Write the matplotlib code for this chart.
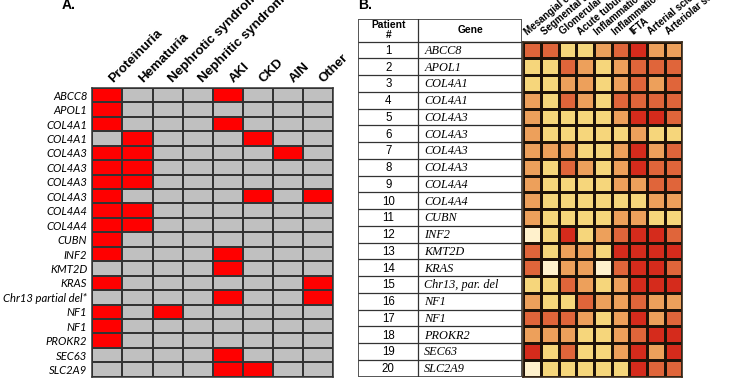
import numpy as np
import matplotlib
matplotlib.use("Agg")
import matplotlib.pyplot as plt
from matplotlib.colors import ListedColormap

# ---------------- data ----------------
genes_a = ["ABCC8", "APOL1", "COL4A1", "COL4A1", "COL4A3", "COL4A3", "COL4A3", "COL4A3",
           "COL4A4", "COL4A4", "CUBN", "INF2", "KMT2D", "KRAS", "Chr13 partial del*",
           "NF1", "NF1", "PROKR2", "SEC63", "SLC2A9"]
features_a = ["Proteinuria", "Hematuria", "Nephrotic syndrome", "Nephritic syndrome",
              "AKI", "CKD", "AIN", "Other"]
# 1 = present (red), 0 = absent (gray)
presence = [
    [1, 0, 0, 0, 1, 0, 0, 0],
    [1, 0, 0, 0, 0, 0, 0, 0],
    [1, 0, 0, 0, 1, 0, 0, 0],
    [0, 1, 0, 0, 0, 1, 0, 0],
    [1, 1, 0, 0, 0, 0, 1, 0],
    [1, 1, 0, 0, 0, 0, 0, 0],
    [1, 1, 0, 0, 0, 0, 0, 0],
    [1, 0, 0, 0, 0, 1, 0, 1],
    [1, 1, 0, 0, 0, 0, 0, 0],
    [1, 1, 0, 0, 0, 0, 0, 0],
    [1, 0, 0, 0, 0, 0, 0, 0],
    [1, 0, 0, 0, 1, 0, 0, 0],
    [0, 0, 0, 0, 1, 0, 0, 0],
    [1, 0, 0, 0, 0, 0, 0, 1],
    [0, 0, 0, 0, 1, 0, 0, 1],
    [1, 0, 1, 0, 0, 0, 0, 0],
    [1, 0, 0, 0, 0, 0, 0, 0],
    [1, 0, 0, 0, 0, 0, 0, 0],
    [0, 0, 0, 0, 1, 0, 0, 0],
    [0, 0, 0, 0, 1, 1, 0, 0],
]

patients = list(range(1, 21))
genes_b = ["ABCC8", "APOL1", "COL4A1", "COL4A1", "COL4A3", "COL4A3", "COL4A3", "COL4A3",
           "COL4A4", "COL4A4", "CUBN", "INF2", "KMT2D", "KRAS", "Chr13, par. del",
           "NF1", "NF1", "PROKR2", "SEC63", "SLC2A9"]
features_b = ["Mesangial expansion", "Segmental sclerosis", "Glomerular sclerosis",
              "Acute tubular injury", "Inflammation (IFTA)", "Inflammation (non-IFTA)",
              "IFTA", "Arterial sclerosis", "Arteriolar sclerosis"]
# severity score 0-4
severity = [
    [3, 3, 1, 1, 2, 3, 4, 2, 2],
    [1, 1, 3, 2, 1, 2, 3, 3, 3],
    [1, 1, 2, 2, 1, 2, 3, 2, 3],
    [2, 1, 3, 2, 1, 3, 3, 3, 3],
    [2, 1, 1, 1, 1, 2, 4, 4, 3],
    [2, 1, 1, 1, 1, 1, 2, 1, 1],
    [2, 2, 2, 1, 1, 2, 4, 2, 3],
    [2, 1, 3, 2, 1, 2, 4, 3, 3],
    [2, 1, 1, 1, 1, 2, 2, 3, 3],
    [2, 1, 1, 1, 1, 1, 1, 2, 2],
    [2, 1, 1, 1, 1, 2, 2, 1, 1],
    [0, 1, 4, 1, 2, 3, 4, 4, 3],
    [3, 1, 2, 2, 1, 4, 4, 4, 4],
    [3, 0, 2, 2, 0, 3, 4, 4, 3],
    [1, 1, 3, 2, 1, 2, 4, 4, 4],
    [2, 1, 1, 3, 2, 2, 3, 2, 2],
    [3, 3, 3, 2, 1, 2, 4, 2, 3],
    [2, 2, 2, 1, 1, 2, 3, 4, 4],
    [4, 1, 3, 1, 1, 2, 4, 2, 4],
    [0, 1, 1, 1, 1, 1, 4, 3, 3],
]

# ---------------- figure ----------------
W, H = 733, 384
fig = plt.figure(figsize=(W / 100, H / 100), dpi=100)
fig.patch.set_facecolor("white")

def px_axes(x0, y0, x1, y1):
    return fig.add_axes([x0 / W, 1 - y1 / H, (x1 - x0) / W, (y1 - y0) / H])

# ---------- Panel A ----------
axA = px_axes(92.3, 88, 333.3, 376.7)
pa = np.array(presence)
axA.pcolormesh(pa, cmap=ListedColormap(["#C0C0C0", "#FF0000"]), vmin=0, vmax=1,
               edgecolors="#333333", linewidth=1.1)
axA.set_xlim(0, len(features_a))
axA.set_ylim(len(genes_a), 0)
axA.set_xticks([])
axA.set_yticks(np.arange(len(genes_a)) + 0.5)
axA.set_yticklabels(genes_a, fontstyle="italic", fontsize=8.1, family=["Lato", "DejaVu Sans"])
axA.tick_params(axis="y", length=0, pad=3.5)
for s in axA.spines.values():
    s.set_color("#333333")
    s.set_linewidth(1.1)
for i, lab in enumerate(features_a):
    axA.text(i + 0.68, -0.38, lab, rotation=45, rotation_mode="anchor",
             ha="left", va="baseline", fontsize=9.5, fontweight="bold",
             family=["Liberation Sans", "DejaVu Sans"], clip_on=False)
fig.text(62 / W, 1 - 9 / H, "A.", fontsize=10, fontweight="bold",
         family=["Liberation Sans"], va="baseline", ha="left")

# ---------- Panel B: table ----------
nrow = len(patients)
hdr = (41.7 - 19) / 16.75
axT = px_axes(358.3, 19, 521.7, 376.7)
axT.set_xlim(0, 163.4)
axT.set_ylim(nrow, -hdr)
axT.axis("off")
line_c = "#333333"
for r in range(0, nrow):
    axT.plot([0, 163.4], [r, r], color=line_c, lw=0.9, solid_capstyle="butt")
axT.plot([60, 60], [-hdr, nrow], color=line_c, lw=0.9)
axT.add_patch(plt.Rectangle((0, -hdr), 163.4, nrow + hdr, fill=False,
                            edgecolor="#555555", lw=1.4))
axT.text(30, -hdr / 2, "Patient\n#", ha="center", va="center", fontsize=7.4,
         fontweight="bold", family=["Liberation Sans"], linespacing=1.0)
axT.text(111.7, -hdr / 2, "Gene", ha="center", va="center", fontsize=7.4,
         fontweight="bold", family=["Liberation Sans"])
for r, (p, g) in enumerate(zip(patients, genes_b)):
    axT.text(30, r + 0.55, str(p), ha="center", va="center", fontsize=8.3,
             family=["Liberation Sans"])
    axT.text(66, r + 0.55, g, ha="left", va="center", fontsize=8.8,
             fontstyle="italic", family=["Liberation Serif"])

# ---------- Panel B: heatmap ----------
axH = px_axes(523.3, 41.7, 682.3, 376.7)
sev = np.array(severity)
cmapB = ListedColormap(["#FFF1CC", "#F6D67B", "#EDA05B", "#E0653A", "#D52B1C"])
axH.pcolormesh(sev, cmap=cmapB, vmin=-0.5, vmax=4.5, edgecolors="#1e1208", linewidth=0.9)
axH.set_xlim(0, len(features_b))
axH.set_ylim(nrow, 0)
axH.set_xticks([])
axH.set_yticks([])
for s in axH.spines.values():
    s.set_color("#3a2a1a")
    s.set_linewidth(1.2)
for j, lab in enumerate(features_b):
    axH.text(j + 0.3, -0.3, lab, rotation=40, rotation_mode="anchor",
             ha="left", va="bottom", fontsize=7.0, fontweight="bold",
             family=["Liberation Sans"], clip_on=False)
fig.text(358 / W, 1 - 9 / H, "B.", fontsize=10, fontweight="bold",
         family=["Liberation Sans"], va="baseline", ha="left")

fig.savefig("out.png", dpi=100, facecolor="white")
